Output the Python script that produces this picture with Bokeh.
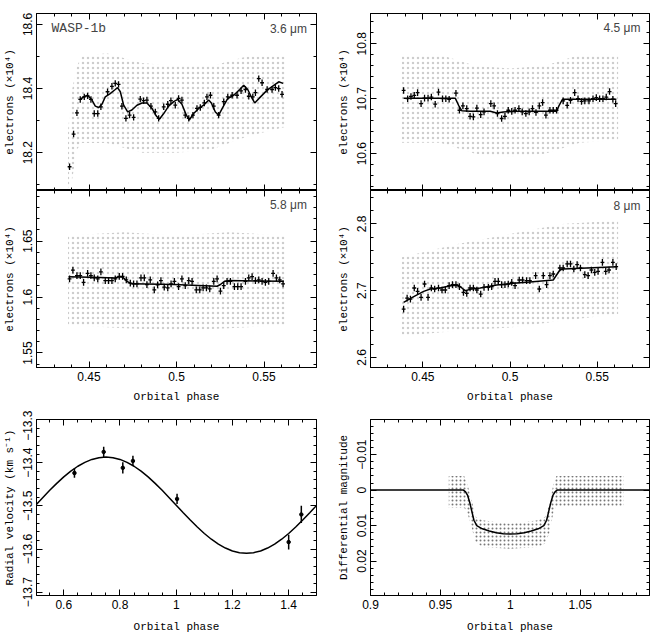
import numpy as np
from bokeh.plotting import figure
from bokeh.models import Range1d, LinearAxis, FixedTicker, Label
from bokeh.layouts import row, column
from bokeh.embed import file_html
from bokeh.resources import INLINE

# ---------------- data ----------------
# 3.6 micron binned points
ph36 = [0.4389, 0.4412, 0.4431, 0.4450, 0.4473, 0.4492, 0.4511, 0.4530, 0.4550, 0.4568,
        0.4606, 0.4631, 0.4650, 0.4669, 0.4688, 0.4711, 0.4732, 0.4755, 0.4793, 0.4812,
        0.4831, 0.4854, 0.4879, 0.4898, 0.4927, 0.4950, 0.4968, 0.4993, 0.5012, 0.5031,
        0.5050, 0.5070, 0.5094, 0.5117, 0.5136, 0.5159, 0.5174, 0.5194, 0.5213, 0.5241,
        0.5270, 0.5293, 0.5318, 0.5346, 0.5369, 0.5394, 0.5413, 0.5436, 0.5451, 0.5470,
        0.5489, 0.5518, 0.5546, 0.5565, 0.5584, 0.5603]
fl36 = [18.156, 18.258, 18.324, 18.366, 18.374, 18.377, 18.366, 18.322, 18.322, 18.343,
        18.390, 18.407, 18.416, 18.413, 18.345, 18.307, 18.317, 18.310, 18.367, 18.362,
        18.364, 18.345, 18.327, 18.307, 18.343, 18.351, 18.362, 18.348, 18.369, 18.364,
        18.317, 18.307, 18.317, 18.338, 18.341, 18.355, 18.374, 18.379, 18.345, 18.317,
        18.359, 18.374, 18.379, 18.379, 18.393, 18.397, 18.376, 18.374, 18.387, 18.431,
        18.418, 18.397, 18.397, 18.403, 18.400, 18.382]
err36 = 0.010
mph36 = [0.4450, 0.4469, 0.4492, 0.4517, 0.4536, 0.4555, 0.4574, 0.4593, 0.4621, 0.4650,
         0.4663, 0.4679, 0.4698, 0.4721, 0.4745, 0.4774, 0.4803, 0.4831, 0.4860, 0.4885,
         0.4902, 0.4927, 0.4955, 0.4984, 0.5007, 0.5031, 0.5056, 0.5073, 0.5098, 0.5127,
         0.5155, 0.5184, 0.5199, 0.5222, 0.5241, 0.5266, 0.5293, 0.5327, 0.5361, 0.5384,
         0.5407, 0.5432, 0.5447, 0.5480, 0.5518, 0.5556, 0.5584, 0.5609]
mfl36 = [18.366, 18.374, 18.379, 18.364, 18.345, 18.341, 18.351, 18.374, 18.384, 18.397,
         18.403, 18.390, 18.348, 18.327, 18.333, 18.348, 18.355, 18.355, 18.338, 18.314,
         18.304, 18.322, 18.345, 18.359, 18.366, 18.351, 18.317, 18.302, 18.322, 18.338,
         18.348, 18.364, 18.355, 18.327, 18.317, 18.343, 18.369, 18.379, 18.397, 18.410,
         18.397, 18.369, 18.355, 18.374, 18.395, 18.410, 18.421, 18.416]
cx36 = [0.438, 0.4405, 0.443, 0.446, 0.46, 0.48, 0.50, 0.52, 0.54, 0.562]
clo36 = [18.09, 18.12, 18.21, 18.23, 18.23, 18.20, 18.20, 18.21, 18.25, 18.28]
chi36 = [18.27, 18.40, 18.47, 18.50, 18.51, 18.48, 18.47, 18.47, 18.50, 18.50]

# 4.5 micron
ph45 = [0.4390, 0.4413, 0.4432, 0.4451, 0.4470, 0.4490, 0.4510, 0.4530, 0.4549, 0.4571,
        0.4590, 0.4613, 0.4632, 0.4651, 0.4690, 0.4710, 0.4730, 0.4752, 0.4771, 0.4790,
        0.4810, 0.4832, 0.4851, 0.4890, 0.4909, 0.4928, 0.4952, 0.4971, 0.4990, 0.5010,
        0.5029, 0.5051, 0.5070, 0.5091, 0.5110, 0.5129, 0.5149, 0.5168, 0.5187, 0.5206,
        0.5229, 0.5248, 0.5267, 0.5305, 0.5328, 0.5347, 0.5371, 0.5390, 0.5410, 0.5429,
        0.5453, 0.5476, 0.5495, 0.5514, 0.5533, 0.5552, 0.5571, 0.5590, 0.5606]
fl45 = [10.715, 10.700, 10.704, 10.706, 10.711, 10.691, 10.701, 10.701, 10.703, 10.690,
        10.712, 10.700, 10.700, 10.699, 10.710, 10.679, 10.687, 10.682, 10.668, 10.667,
        10.683, 10.671, 10.676, 10.691, 10.687, 10.673, 10.664, 10.668, 10.679, 10.677,
        10.679, 10.682, 10.676, 10.673, 10.676, 10.682, 10.675, 10.687, 10.693, 10.670,
        10.679, 10.679, 10.679, 10.696, 10.688, 10.697, 10.711, 10.700, 10.695, 10.696,
        10.696, 10.700, 10.702, 10.700, 10.700, 10.703, 10.713, 10.699, 10.691]
err45 = 0.006
mph45 = [0.4390, 0.4686, 0.4705, 0.4724, 0.4771, 0.4886, 0.4924, 0.4962, 0.5038, 0.5267,
         0.5282, 0.5301, 0.5610]
mfl45 = [10.701, 10.701, 10.688, 10.678, 10.677, 10.677, 10.674, 10.676, 10.677, 10.677,
         10.688, 10.699, 10.699]
cx45 = [0.438, 0.46, 0.48, 0.50, 0.52, 0.54, 0.562]
clo45 = [10.62, 10.62, 10.60, 10.595, 10.60, 10.62, 10.625]
chi45 = [10.78, 10.78, 10.76, 10.755, 10.76, 10.78, 10.78]

# 5.8 micron
ph58 = [0.4389, 0.4408, 0.4431, 0.4450, 0.4469, 0.4492, 0.4511, 0.4530, 0.4550, 0.4568,
        0.4593, 0.4612, 0.4631, 0.4650, 0.4673, 0.4692, 0.4713, 0.4736, 0.4755, 0.4774,
        0.4797, 0.4816, 0.4831, 0.4850, 0.4873, 0.4892, 0.4911, 0.4930, 0.4950, 0.4969,
        0.4988, 0.5012, 0.5031, 0.5050, 0.5070, 0.5089, 0.5113, 0.5133, 0.5152, 0.5171,
        0.5190, 0.5213, 0.5232, 0.5251, 0.5270, 0.5289, 0.5308, 0.5331, 0.5350, 0.5369,
        0.5394, 0.5413, 0.5432, 0.5451, 0.5470, 0.5489, 0.5508, 0.5527, 0.5552, 0.5571,
        0.5590, 0.5609]
fl58 = [1.6162, 1.6241, 1.6191, 1.6191, 1.6132, 1.6212, 1.6191, 1.6171, 1.6162, 1.6226,
        1.6147, 1.6147, 1.6147, 1.6162, 1.6185, 1.6185, 1.6153, 1.6124, 1.6118, 1.6118,
        1.6171, 1.6171, 1.6112, 1.6153, 1.6065, 1.6109, 1.6147, 1.6088, 1.6082, 1.6118,
        1.6141, 1.6094, 1.6162, 1.6103, 1.6147, 1.6141, 1.6065, 1.6065, 1.6082, 1.6082,
        1.6074, 1.6141, 1.6162, 1.6053, 1.6103, 1.6141, 1.6141, 1.6094, 1.6094, 1.6094,
        1.6141, 1.6171, 1.6182, 1.6147, 1.6153, 1.6141, 1.6132, 1.6141, 1.6212, 1.6171,
        1.6153, 1.6118]
err58 = 0.003
mph58 = [0.4383, 0.4564, 0.4650, 0.4669, 0.4694, 0.4717, 0.4745, 0.4984, 0.5232, 0.5251,
         0.5274, 0.5298, 0.5613]
mfl58 = [1.6182, 1.6176, 1.6171, 1.6182, 1.6176, 1.6141, 1.6118, 1.6112, 1.6097, 1.6112,
         1.6141, 1.6147, 1.6141]
cx58 = [0.438, 0.47, 0.50, 0.53, 0.562]
clo58 = [1.575, 1.572, 1.570, 1.572, 1.575]
chi58 = [1.655, 1.658, 1.655, 1.658, 1.655]

# 8 micron
ph80 = [0.4390, 0.4410, 0.4429, 0.4451, 0.4470, 0.4490, 0.4510, 0.4530, 0.4549, 0.4568,
        0.4590, 0.4610, 0.4629, 0.4651, 0.4670, 0.4690, 0.4710, 0.4733, 0.4752, 0.4771,
        0.4790, 0.4810, 0.4832, 0.4851, 0.4876, 0.4895, 0.4914, 0.4933, 0.4952, 0.4971,
        0.4990, 0.5010, 0.5029, 0.5053, 0.5072, 0.5095, 0.5114, 0.5147, 0.5168, 0.5191,
        0.5210, 0.5229, 0.5248, 0.5286, 0.5305, 0.5328, 0.5347, 0.5366, 0.5385, 0.5404,
        0.5429, 0.5448, 0.5467, 0.5486, 0.5505, 0.5530, 0.5549, 0.5568, 0.5590, 0.5609]
fl80 = [2.6725, 2.6890, 2.6875, 2.7040, 2.6990, 2.6900, 2.7100, 2.6900, 2.7040, 2.7025,
        2.7040, 2.7010, 2.7010, 2.7075, 2.7090, 2.7090, 2.7060, 2.6975, 2.6960, 2.7040,
        2.7040, 2.7010, 2.6950, 2.7050, 2.7050, 2.7060, 2.7140, 2.7140, 2.7090, 2.7090,
        2.7100, 2.7125, 2.7075, 2.7160, 2.7160, 2.7150, 2.7150, 2.7225, 2.7025, 2.7225,
        2.7090, 2.7225, 2.7250, 2.7340, 2.7340, 2.7400, 2.7400, 2.7325, 2.7390, 2.7340,
        2.7240, 2.7225, 2.7310, 2.7275, 2.7290, 2.7425, 2.7290, 2.7310, 2.7425, 2.7360]
err80 = 0.005
mph80 = [0.4390, 0.4448, 0.4505, 0.4543, 0.4600, 0.4657, 0.4705, 0.4724, 0.4743, 0.4771,
         0.4829, 0.4924, 0.5019, 0.5114, 0.5248, 0.5286, 0.5305, 0.5610]
mfl80 = [2.6825, 2.6910, 2.6990, 2.7025, 2.7040, 2.7075, 2.7080, 2.7040, 2.7000, 2.7020,
         2.7040, 2.7085, 2.7110, 2.7130, 2.7160, 2.7310, 2.7325, 2.7360]
cx80 = [0.438, 0.47, 0.50, 0.53, 0.562]
clo80 = [2.632, 2.640, 2.645, 2.655, 2.665]
chi80 = [2.750, 2.770, 2.785, 2.800, 2.805]

# radial velocities
rv_ph = [0.638, 0.742, 0.810, 0.846, 1.003, 1.400, 1.445]
rv_v = [-13.424, -13.375, -13.412, -13.396, -13.484, -13.584, -13.520]
rv_e = [0.011, 0.012, 0.013, 0.012, 0.012, 0.017, 0.020]
rvm_ph = [0.500, 0.525, 0.550, 0.575, 0.600, 0.625, 0.650, 0.675, 0.700, 0.725,
          0.750, 0.775, 0.800, 0.825, 0.850, 0.875, 0.900, 0.925, 0.950, 0.975,
          1.000, 1.025, 1.050, 1.075, 1.100, 1.125, 1.150, 1.175, 1.200, 1.225,
          1.250, 1.275, 1.300, 1.325, 1.350, 1.375, 1.400, 1.425, 1.450, 1.475, 1.500]
rvm_v = [-13.4985, -13.4811, -13.4641, -13.4479, -13.4330, -13.4197, -13.4083, -13.3992,
         -13.3925, -13.3884, -13.3870, -13.3884, -13.3925, -13.3992, -13.4083, -13.4197,
         -13.4330, -13.4479, -13.4641, -13.4811, -13.4985, -13.5159, -13.5330, -13.5491,
         -13.5640, -13.5773, -13.5887, -13.5978, -13.6045, -13.6086, -13.6100, -13.6086,
         -13.6045, -13.5978, -13.5887, -13.5773, -13.5640, -13.5491, -13.5330, -13.5159,
         -13.4985]

# optical transit
tr_ph = [0.900, 0.9665, 0.968, 0.9695, 0.971, 0.9725, 0.974, 0.976, 0.980, 0.985, 0.990,
         0.995, 1.000, 1.005, 1.010, 1.015, 1.020, 1.024, 1.026, 1.0275, 1.029, 1.0305,
         1.032, 1.0335, 1.100]
tr_m = [0.0, 0.0, 0.0005, 0.0015, 0.0035, 0.0060, 0.0085, 0.0100, 0.0109, 0.0115, 0.0120,
        0.0123, 0.0124, 0.0123, 0.0120, 0.0115, 0.0109, 0.0100, 0.0085, 0.0060, 0.0035,
        0.0015, 0.0005, 0.0, 0.0]
trc_x = [0.956, 0.967, 0.969, 0.972, 0.975, 0.980, 1.000, 1.020, 1.025, 1.028, 1.031, 1.033, 1.081]
trc_lo = [-0.004, -0.004, -0.002, 0.002, 0.0075, 0.0085, 0.0095, 0.0085, 0.0075, 0.004, -0.002, -0.004, -0.004]
trc_hi = [0.005, 0.005, 0.006, 0.010, 0.0145, 0.016, 0.0165, 0.016, 0.015, 0.012, 0.006, 0.0045, 0.0045]

# ticks
ir_xt = [0.45, 0.5, 0.55]
ir_xl = ["0.45", "0.5", "0.55"]
y36_t = [18.2, 18.4, 18.6]
y36_l = ["18.2", "18.4", "18.6"]
y45_t = [10.6, 10.7, 10.8]
y45_l = ["10.6", "10.7", "10.8"]
y58_t = [1.55, 1.6, 1.65]
y58_l = ["1.55", "1.6", "1.65"]
y80_t = [2.6, 2.7, 2.8]
y80_l = ["2.6", "2.7", "2.8"]
rv_xt = [0.6, 0.8, 1.0, 1.2, 1.4]
rv_xl = ["0.6", "0.8", "1", "1.2", "1.4"]
rv_yt = [-13.7, -13.6, -13.5, -13.4, -13.3]
rv_yl = ["\u221213.7", "\u221213.6", "\u221213.5", "\u221213.4", "\u221213.3"]
tr_xt = [0.9, 0.95, 1.0, 1.05]
tr_xl = ["0.9", "0.95", "1", "1.05"]
tr_yt = [-0.01, 0.0, 0.01, 0.02]
tr_yl = ["\u22120.01", "0", "0.01", "0.02"]

LABEL_FONT = "Liberation Mono"
TICK_FONT = "Liberation Sans"


def mk_axis(kind, major, minor, labels=None, title=None, standoff=5):
    ax = LinearAxis()
    ax.ticker = FixedTicker(ticks=major, minor_ticks=minor)
    ax.major_tick_in = 6
    ax.major_tick_out = 0
    ax.minor_tick_in = 3
    ax.minor_tick_out = 0
    ax.axis_line_color = "black"
    ax.major_tick_line_color = "black"
    ax.minor_tick_line_color = "black"
    if labels is not None:
        ax.major_label_overrides = {float(k): v for k, v in zip(major, labels)}
        ax.major_label_text_font = TICK_FONT
        ax.major_label_text_font_size = "12px"
        ax.major_label_text_color = "black"
        ax.major_label_standoff = 4
        if kind == "y":
            ax.major_label_orientation = "vertical"
    else:
        ax.major_label_text_font_size = "0px"
        ax.major_label_text_color = None
        ax.major_label_text_alpha = 0
        ax.major_label_standoff = 0
    if title is not None:
        ax.axis_label = title
        ax.axis_label_text_font = LABEL_FONT
        ax.axis_label_text_font_size = "11px"
        ax.axis_label_text_font_style = "normal"
        ax.axis_label_text_color = "black"
        ax.axis_label_standoff = standoff
    return ax


def mk_fig(w, h, bl, br, bt, bb, xr, yr):
    p = figure(width=w, height=h, x_range=Range1d(*xr), y_range=Range1d(*yr),
               output_backend="svg", toolbar_location=None,
               x_axis_location=None, y_axis_location=None,
               min_border_left=bl, min_border_right=br, min_border_top=bt, min_border_bottom=bb)
    p.grid.visible = False
    p.outline_line_color = "black"
    p.outline_line_width = 1
    p.background_fill_color = "white"
    p.border_fill_color = "white"
    return p


def ir_panel(p, cx, clo, chi, ph, fl, err, mph, mfl):
    p.varea(x=cx, y1=clo, y2=chi, fill_alpha=0, hatch_pattern="dot", hatch_scale=5,
            hatch_color="#c0c0c0", hatch_alpha=0.8, hatch_weight=0.3)
    ph = np.array(ph)
    fl = np.array(fl)
    hw = 0.0011
    p.segment(x0=ph, y0=fl - err, x1=ph, y1=fl + err, line_color="black", line_width=1.3)
    p.segment(x0=ph - hw, y0=fl, x1=ph + hw, y1=fl, line_color="black", line_width=1.3)
    p.line(mph, mfl, line_color="black", line_width=1.5)


ir_minor = list(np.round(np.arange(0.42, 0.585, 0.01), 3))

# panel 1 (3.6)
p1 = mk_fig(330, 190, 36, 14, 13, 0, (0.42, 0.58), (18.082, 18.634))
ir_panel(p1, cx36, clo36, chi36, ph36, fl36, err36, mph36, mfl36)
p1.add_layout(mk_axis("x", ir_xt, ir_minor), "below")
p1.add_layout(mk_axis("x", ir_xt, ir_minor), "above")
p1.add_layout(mk_axis("y", y36_t, [18.1, 18.3, 18.5], y36_l, "electrons (\u00d710\u2074)"), "left")
p1.add_layout(mk_axis("y", y36_t, [18.1, 18.3, 18.5]), "right")
p1.add_layout(Label(x=0.4286, y=18.587, text="WASP-1b", text_font=LABEL_FONT, text_font_size="13px",
                    text_baseline="middle", text_align="left"))
p1.add_layout(Label(x=0.5745, y=18.587, text="3.6 \u03bcm", text_font=TICK_FONT, text_font_size="12px",
                    text_baseline="middle", text_align="right"))

# panel 2 (4.5)
y45_minor = list(np.round(np.arange(10.54, 10.86, 0.02), 3))
p2 = mk_fig(327, 190, 40, 8, 13, 0, (0.42, 0.58), (10.533, 10.855))
ir_panel(p2, cx45, clo45, chi45, ph45, fl45, err45, mph45, mfl45)
p2.add_layout(mk_axis("x", ir_xt, ir_minor), "below")
p2.add_layout(mk_axis("x", ir_xt, ir_minor), "above")
p2.add_layout(mk_axis("y", y45_t, y45_minor, y45_l, "electrons (\u00d710\u2074)"), "left")
p2.add_layout(mk_axis("y", y45_t, y45_minor), "right")
p2.add_layout(Label(x=0.5748, y=10.828, text="4.5 \u03bcm", text_font=TICK_FONT, text_font_size="12px",
                    text_baseline="middle", text_align="right"))

# panel 3 (5.8)
y58_minor = list(np.round(np.arange(1.54, 1.695, 0.01), 3))
p3 = mk_fig(330, 220, 36, 14, 0, 43, (0.42, 0.58), (1.537, 1.6953))
ir_panel(p3, cx58, clo58, chi58, ph58, fl58, err58, mph58, mfl58)
p3.add_layout(mk_axis("x", ir_xt, ir_minor, ir_xl, "Orbital phase", 7), "below")
p3.add_layout(mk_axis("x", ir_xt, ir_minor), "above")
p3.add_layout(mk_axis("y", y58_t, y58_minor, y58_l, "electrons (\u00d710\u2074)"), "left")
p3.add_layout(mk_axis("y", y58_t, y58_minor), "right")
p3.add_layout(Label(x=0.5745, y=1.682, text="5.8 \u03bcm", text_font=TICK_FONT, text_font_size="12px",
                    text_baseline="middle", text_align="right"))

# panel 4 (8)
y80_minor = list(np.round(np.arange(2.60, 2.85, 0.02), 3))
p4 = mk_fig(327, 220, 40, 8, 0, 43, (0.42, 0.58), (2.585, 2.85))
ir_panel(p4, cx80, clo80, chi80, ph80, fl80, err80, mph80, mfl80)
p4.add_layout(mk_axis("x", ir_xt, ir_minor, ir_xl, "Orbital phase", 7), "below")
p4.add_layout(mk_axis("x", ir_xt, ir_minor), "above")
p4.add_layout(mk_axis("y", y80_t, y80_minor, y80_l, "electrons (\u00d710\u2074)"), "left")
p4.add_layout(mk_axis("y", y80_t, y80_minor), "right")
p4.add_layout(Label(x=0.5748, y=2.8275, text="8 \u03bcm", text_font=TICK_FONT, text_font_size="12px",
                    text_baseline="middle", text_align="right"))

# panel 5 (RV)
rv_xminor = list(np.round(np.arange(0.55, 1.5, 0.05), 3))
rv_yminor = list(np.round(np.arange(-13.70, -13.29, 0.02), 3))
p5 = mk_fig(330, 226, 36, 14, 9, 41, (0.503, 1.499), (-13.7077, -13.3))
p5.line(rvm_ph, rvm_v, line_color="black", line_width=1.5)
rvp = np.array(rv_ph)
rvv = np.array(rv_v)
rve = np.array(rv_e)
p5.segment(x0=rvp, y0=rvv - rve, x1=rvp, y1=rvv + rve, line_color="black", line_width=1.5)
p5.scatter(rv_ph, rv_v, size=3.5, color="black")
p5.add_layout(mk_axis("x", rv_xt, rv_xminor, rv_xl, "Orbital phase", 9), "below")
p5.add_layout(mk_axis("x", rv_xt, rv_xminor), "above")
p5.add_layout(mk_axis("y", rv_yt, rv_yminor, rv_yl, "Radial velocity (km s\u207b\u00b9)"), "left")
p5.add_layout(mk_axis("y", rv_yt, rv_yminor), "right")

# panel 6 (transit)
tr_xminor = list(np.round(np.arange(0.91, 1.1, 0.01), 3))
tr_yminor = list(np.round(np.arange(-0.018, 0.03, 0.002), 4))
p6 = mk_fig(327, 226, 40, 8, 9, 41, (0.9, 1.0996), (0.0297, -0.0199))
p6.varea(x=trc_x, y1=trc_lo, y2=trc_hi, fill_alpha=0, hatch_pattern="dot", hatch_scale=4,
         hatch_color="#555555", hatch_alpha=0.8, hatch_weight=0.3)
p6.line(tr_ph, tr_m, line_color="black", line_width=1.5)
p6.add_layout(mk_axis("x", tr_xt, tr_xminor, tr_xl, "Orbital phase", 9), "below")
p6.add_layout(mk_axis("x", tr_xt, tr_xminor), "above")
p6.add_layout(mk_axis("y", tr_yt, tr_yminor, tr_yl, "Differential magnitude"), "left")
p6.add_layout(mk_axis("y", tr_yt, tr_yminor), "right")

layout = column(row(p1, p2, spacing=0), row(p3, p4, spacing=0), row(p5, p6, spacing=0), spacing=0)

open("out.html", "w").write(file_html(layout, INLINE))
